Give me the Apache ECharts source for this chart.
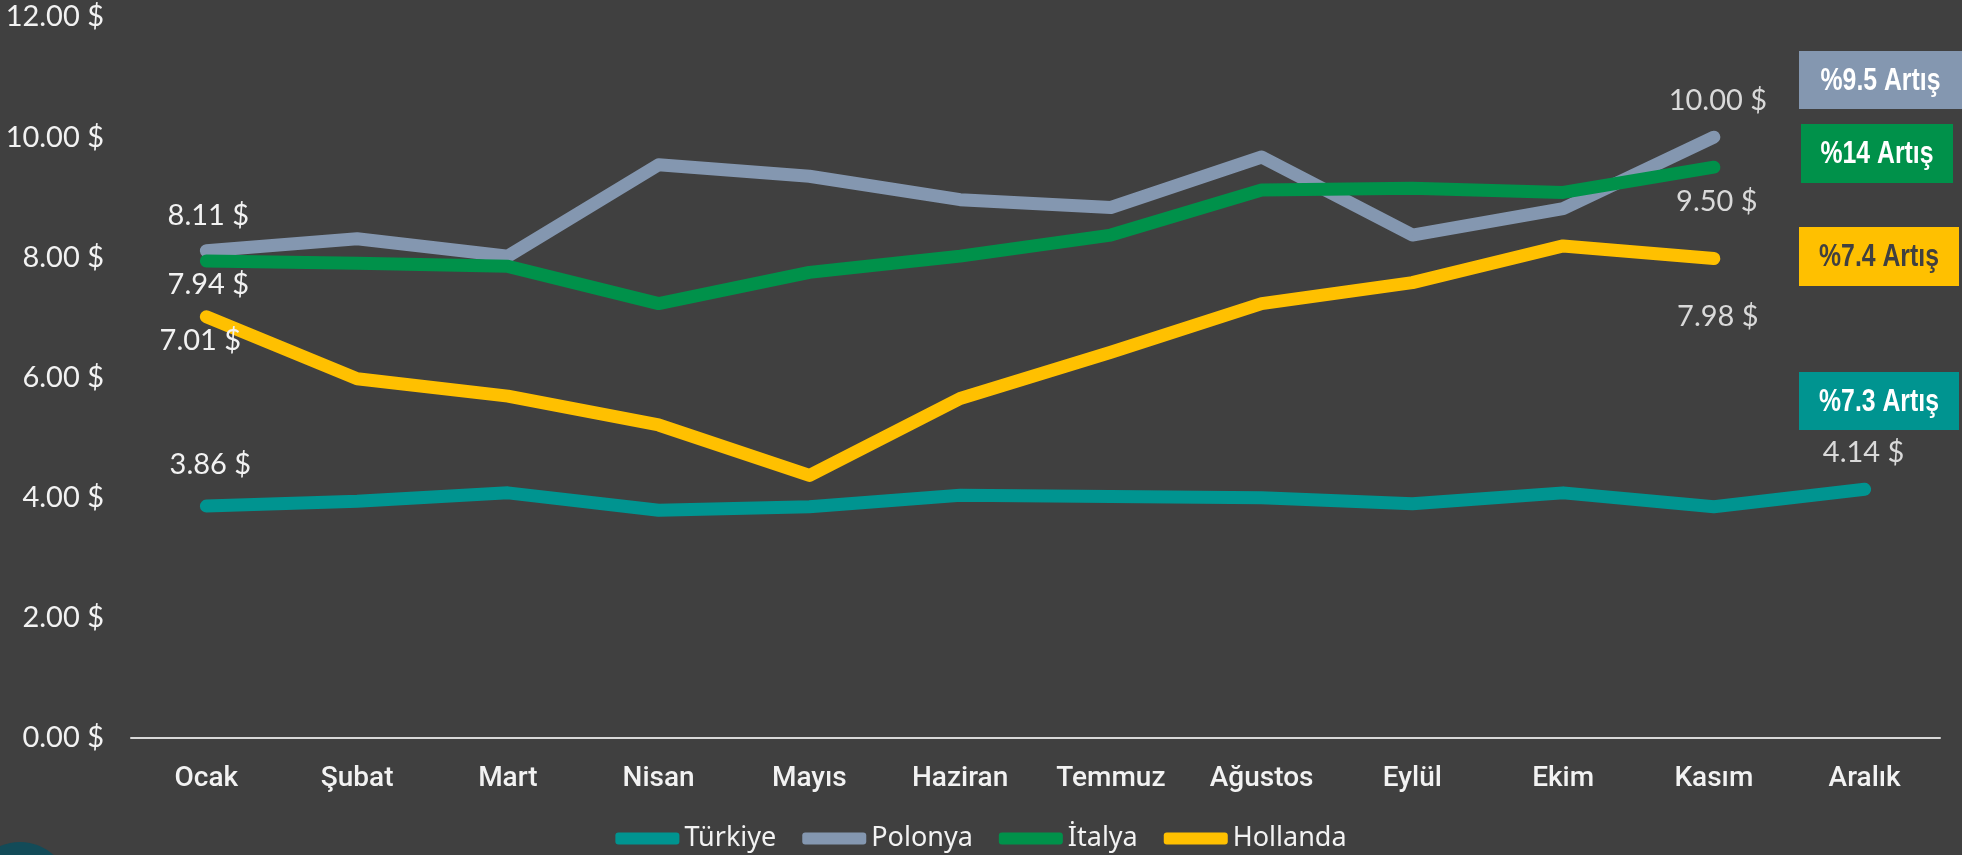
<!DOCTYPE html>
<html>
<head>
<meta charset="utf-8">
<script src="https://cdn.jsdelivr.net/npm/echarts@6/dist/echarts.min.js"></script>
<style>
  html, body { margin: 0; padding: 0; background: #404040; }
  #chart { width: 1962px; height: 855px; }
</style>
</head>
<body>
<div id="chart"></div>
<script>
// aylar
var months = ['Ocak', 'Şubat', 'Mart', 'Nisan', 'Mayıs', 'Haziran', 'Temmuz', 'Ağustos', 'Eylül', 'Ekim', 'Kasım', 'Aralık'];

var seriesNames = ['Türkiye', 'Polonya', 'İtalya', 'Hollanda'];
var turkiye  = [3.86, 3.94, 4.08, 3.79, 3.85, 4.04, 4.02, 4.00, 3.90, 4.08, 3.85, 4.14];
var polonya  = [8.11, 8.31, 8.02, 9.54, 9.35, 8.96, 8.83, 9.67, 8.37, 8.81, 10.00, null];
var italya   = [7.94, 7.90, 7.85, 7.23, 7.75, 8.02, 8.37, 9.12, 9.15, 9.08, 9.50, null];
var hollanda = [7.01, 5.98, 5.69, 5.21, 4.37, 5.65, 6.42, 7.23, 7.58, 8.19, 7.98, null];

// artış kutuları
var badgeTexts = ['%9.5 Artış', '%14 Artış', '%7.4 Artış', '%7.3 Artış'];

var colors = ['#009490', '#8497B0', '#00914A', '#FFC000'];

// etiket kaydırmaları (ilk / son nokta)
var labelShift = [
  { start: [4, -41], end: [-1, -37] },
  { start: [2, -35], end: [4, -37] },
  { start: [2, 24], end: [3, 34] },
  { start: [-6, 24], end: [4, 58] }
];

function withLabels(arr, k) {
  var last = -1;
  arr.forEach(function (v, i) { if (v != null) last = i; });
  return arr.map(function (v, i) {
    if (v == null) return null;
    if (i === 0 || i === last) {
      return {
        value: v,
        label: {
          show: true,
          position: 'inside',
          offset: i === 0 ? labelShift[k].start : labelShift[k].end,
          color: i === 0 ? '#f2f2f2' : '#d9d9d9',
          fontFamily: 'Lato',
          fontSize: 29,
          formatter: function (p) { return p.value.toFixed(2) + ' $'; }
        }
      };
    }
    return v;
  });
}

var allData = [turkiye, polonya, italya, hollanda];

var series = allData.map(function (arr, k) {
  return {
    name: seriesNames[k],
    type: 'line',
    data: withLabels(arr, k),
    symbol: 'circle',
    symbolSize: 0.1,
    showSymbol: true,
    itemStyle: { color: colors[k] },
    lineStyle: { color: colors[k], width: 13, cap: 'round', join: 'round' },
    label: { show: false },
    emphasis: { disabled: true },
    animation: false
  };
});

// kutular
var boxes = [
  { x: 1799, y: 51, w: 163, h: 58, bg: colors[1], fg: '#ffffff' },
  { x: 1801, y: 124, w: 152, h: 59, bg: colors[2], fg: '#ffffff' },
  { x: 1799, y: 227, w: 160, h: 59, bg: colors[3], fg: '#404040' },
  { x: 1799, y: 372, w: 160, h: 58, bg: colors[0], fg: '#ffffff' }
];
var graphics = boxes.map(function (b, i) {
  return {
    type: 'group',
    left: b.x, top: b.y,
    children: [
      { type: 'rect', shape: { x: 0, y: 0, width: b.w, height: b.h }, style: { fill: b.bg } },
      {
        type: 'text', x: b.w / 2, y: b.h / 2 + 1, scaleX: 0.8,
        style: {
          text: badgeTexts[i], fill: b.fg, align: 'center', verticalAlign: 'middle',
          font: 'bold 31px "Liberation Sans", sans-serif'
        }
      }
    ]
  };
});
graphics.push({
  type: 'circle', shape: { cx: 20, cy: 892, r: 50 }, style: { fill: '#134b58' }
});

var myChart = echarts.init(document.getElementById('chart'));
var option = {
  backgroundColor: '#404040',
  animation: false,
  color: colors,
  grid: { left: 131, right: 22, top: 17, bottom: 117, containLabel: false },
  legend: {
    bottom: -2,
    left: 'center',
    icon: 'roundRect',
    itemWidth: 64,
    itemHeight: 12,
    itemGap: 26,
    data: seriesNames,
    textStyle: { color: '#f2f2f2', fontSize: 27, fontFamily: 'Noto Sans' }
  },
  xAxis: {
    type: 'category',
    data: months,
    boundaryGap: true,
    axisTick: { show: false },
    axisLine: { lineStyle: { color: '#d9d9d9', width: 2 } },
    axisLabel: {
      color: '#f2f2f2',
      fontSize: 28,
      fontFamily: 'Roboto',
      fontWeight: 500,
      margin: 27,
      interval: 0
    }
  },
  yAxis: {
    type: 'value',
    min: 0,
    max: 12,
    interval: 2,
    splitLine: { show: false },
    axisLine: { show: false },
    axisTick: { show: false },
    axisLabel: {
      color: '#f2f2f2',
      fontSize: 29,
      fontFamily: 'Lato',
      margin: 27,
      formatter: function (v) { return v.toFixed(2) + ' $'; }
    }
  },
  graphic: graphics,
  series: series
};
myChart.setOption(option);
window.addEventListener('resize', function () { myChart.resize(); });
</script>
</body>
</html>
